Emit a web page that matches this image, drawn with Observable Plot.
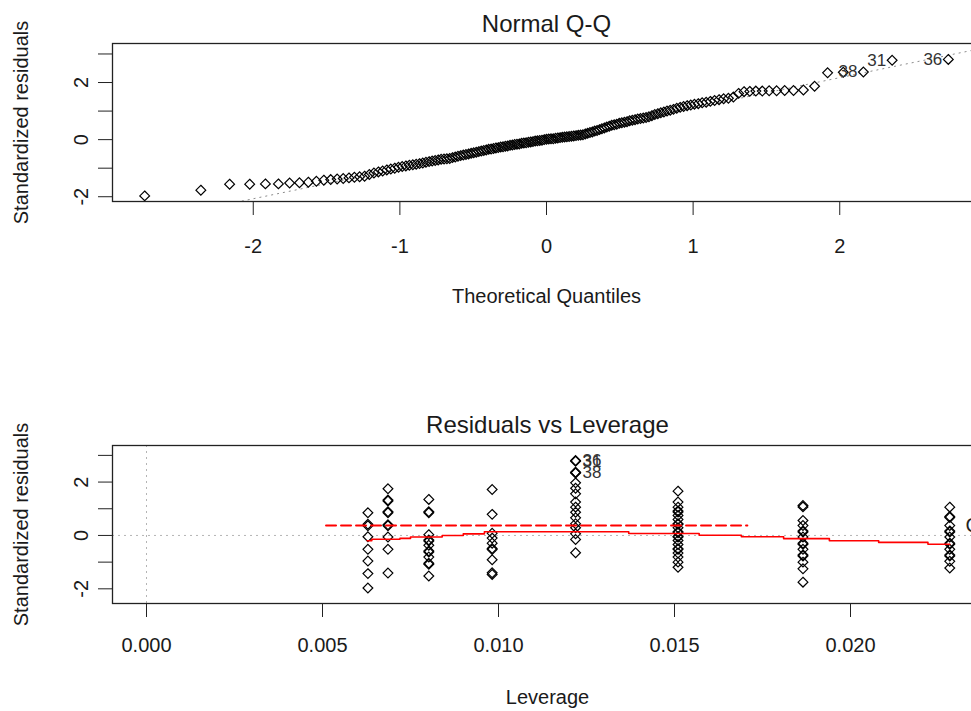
<!DOCTYPE html>
<html><head><meta charset="utf-8">
<script src="https://cdn.jsdelivr.net/npm/d3@7"></script>
<script src="https://cdn.jsdelivr.net/npm/@observablehq/plot@0.6"></script>
<style>
html,body{margin:0;padding:0;background:#fff;overflow:hidden;width:971px;height:711px;}
#c{width:1000px;}
#c svg{display:block;max-width:none !important;}
</style></head><body><div id="c"></div>
<script>
// ---- Data ----
// Sorted standardized residuals (Normal Q-Q panel), n = 163
const qqResiduals = [
 -1.97,-1.77,-1.56,-1.56,-1.55,-1.55,-1.52,-1.51,-1.49,-1.46,
 -1.42,-1.40,-1.38,-1.36,-1.34,-1.32,-1.30,-1.28,-1.22,-1.17,
 -1.13,-1.10,-1.06,-1.03,-1.00,-0.97,-0.94,-0.92,-0.90,-0.88,
 -0.86,-0.84,-0.82,-0.79,-0.77,-0.75,-0.73,-0.71,-0.69,-0.68,
 -0.67,-0.66,-0.63,-0.61,-0.58,-0.56,-0.54,-0.52,-0.50,-0.48,
 -0.46,-0.44,-0.42,-0.40,-0.38,-0.36,-0.34,-0.33,-0.31,-0.29,
 -0.28,-0.26,-0.25,-0.23,-0.22,-0.20,-0.19,-0.17,-0.16,-0.15,
 -0.13,-0.12,-0.11,-0.09,-0.08,-0.07,-0.05,-0.04,-0.03,-0.02,
 0.00,0.01,0.02,0.03,0.03,0.05,0.06,0.07,0.08,0.09,
 0.10,0.11,0.12,0.13,0.14,0.15,0.16,0.17,0.20,0.22,
 0.25,0.27,0.30,0.32,0.35,0.38,0.41,0.44,0.47,0.50,
 0.52,0.54,0.57,0.59,0.61,0.63,0.66,0.68,0.70,0.72,
 0.74,0.755,0.775,0.80,0.84,0.88,0.91,0.94,0.97,1.00,
 1.03,1.06,1.10,1.13,1.16,1.19,1.21,1.24,1.26,1.29,
 1.31,1.34,1.37,1.40,1.43,1.45,1.49,1.62,1.68,1.69,
 1.70,1.70,1.71,1.71,1.72,1.72,1.74,1.87,2.34,2.36,
 2.37,2.78,2.81
];

// Residuals vs Leverage panel: leverage levels and residuals at each level
const leverageLevels = [0.00629, 0.00686, 0.00802, 0.00982, 0.01219, 0.01510, 0.01865, 0.02282];
const residualsByLevel = [
 [0.85, 0.42, 0.36, -0.05, -0.52, -0.96, -1.43, -1.97],
 [1.75, 1.33, 1.29, 0.89, 0.85, 0.40, 0.36, -0.06, -0.52, -1.41],
 [1.35, 0.89, 0.85, 0.03, -0.17, -0.21, -0.37, -0.58, -0.62, -0.81, -1.04, -1.08, -1.52],
 [1.72, 0.79, 0.08, -0.10, -0.29, -0.49, -0.53, -0.91, -1.40, -1.46],
 [2.81, 2.78, 2.37, 2.36, 2.34, 1.97, 1.77, 1.56, 1.25, 1.06, 0.87, 0.66, 0.44, 0.29, 0.06, -0.15, -0.65],
 [1.66, 1.25, 1.06, 0.92, 0.88, 0.75, 0.60, 0.44, 0.42, 0.29, 0.14, 0.10, -0.04, -0.06, -0.19, -0.34, -0.50, -0.52, -0.66, -0.81, -1.00, -1.19],
 [1.12, 1.07, 0.56, 0.37, 0.17, 0.13, -0.06, -0.29, -0.33, -0.52, -0.73, -0.77, -1.00, -1.25, -1.75],
 [1.06, 0.71, 0.67, 0.37, 0.17, 0.13, -0.06, -0.29, -0.33, -0.52, -0.73, -0.77, -0.97, -1.22]
];

// Red smoother (step line)
const smoothX = [0.00627, 0.0064, 0.0072, 0.0075, 0.0084, 0.0090, 0.0096, 0.0137, 0.0157, 0.0169, 0.0181, 0.0194, 0.0208, 0.0222, 0.02282];
const smoothY = [-0.20, -0.14, -0.11, -0.06, 0.00, 0.06, 0.14, 0.07, 0.01, -0.05, -0.12, -0.20, -0.26, -0.33, -0.33];

// Cook's distance legend (dashed red sample + text)
const cookLegendX = [0.0051, 0.01707];
const cookLegendY = 0.37;
const cookLegendText = "Cook's distance";
const cookLegendTextX = 0.02327;

// Labelled observations
const labelIds = ["36", "31", "38"];
const labelResiduals = [2.81, 2.78, 2.37];
const labelLeverage = [0.01219, 0.01219, 0.01219];

// Axis ticks and labels
const qqXTicks = [-2, -1, 0, 1, 2];
const qqXTickLabels = ["-2", "-1", "0", "1", "2"];
const yTicks = [-2, -1, 0, 1, 2, 3];
const yTickLabelVals = [-2, 0, 2];
const yTickLabels = ["-2", "0", "2"];
const levXTicks = [0, 0.005, 0.010, 0.015, 0.020];
const levXTickLabels = ["0.000", "0.005", "0.010", "0.015", "0.020"];

// ---- helpers ----
function qnorm(p){
  const a=[-3.969683028665376e+01,2.209460984245205e+02,-2.759285104469687e+02,1.383577518672690e+02,-3.066479806614716e+01,2.506628277459239e+00];
  const b=[-5.447609879822406e+01,1.615858368580409e+02,-1.556989798598866e+02,6.680131188771972e+01,-1.328068155288572e+01];
  const c=[-7.784894002430293e-03,-3.223964580411365e-01,-2.400758277161838e+00,-2.549732539343734e+00,4.374664141464968e+00,2.938163982698783e+00];
  const d=[7.784695709041462e-03,3.224671290700398e-01,2.445134137142996e+00,3.754408661907416e+00];
  const pl=0.02425;
  if(p<pl){const q=Math.sqrt(-2*Math.log(p));return (((((c[0]*q+c[1])*q+c[2])*q+c[3])*q+c[4])*q+c[5])/((((d[0]*q+d[1])*q+d[2])*q+d[3])*q+1);}
  if(p>1-pl){const q=Math.sqrt(-2*Math.log(1-p));return -(((((c[0]*q+c[1])*q+c[2])*q+c[3])*q+c[4])*q+c[5])/((((d[0]*q+d[1])*q+d[2])*q+d[3])*q+1);}
  const q=p-0.5,r=q*q;return (((((a[0]*r+a[1])*r+a[2])*r+a[3])*r+a[4])*r+a[5])*q/(((((b[0]*r+b[1])*r+b[2])*r+b[3])*r+b[4])*r+1);
}

const nObs = qqResiduals.length;
const sortedRes = qqResiduals.slice().sort((a,b)=>a-b);
const qqData = sortedRes.map((r,i)=>({q: qnorm((i+1-0.5)/nObs), r}));
// qqline through the quartiles
const yq1 = d3.quantile(sortedRes, 0.25), yq3 = d3.quantile(sortedRes, 0.75);
const xq1 = qnorm(0.25), xq3 = qnorm(0.75);
const qqSlope = (yq3-yq1)/(xq3-xq1), qqIntercept = yq1 - qqSlope*xq1;
const qqDomainX = [-2.96, 2.96];
const qqLine = [{x1: qqDomainX[0], y1: qqIntercept+qqSlope*qqDomainX[0], x2: qqDomainX[1], y2: qqIntercept+qqSlope*qqDomainX[1]}];

// labels on Q-Q: position by rank
const qqLabels = labelIds.map((id,k)=>{
  const idx = sortedRes.lastIndexOf(labelResiduals[k]);
  return {id, q: qqData[idx].q, r: labelResiduals[k]};
});

const levData = leverageLevels.flatMap((h,i)=>residualsByLevel[i].map(r=>({h, r})));
const levLabels = labelIds.map((id,k)=>({id, h: labelLeverage[k], r: labelResiduals[k]}));
const smoothData = smoothX.map((x,i)=>({x, y: smoothY[i]}));
const legendData = cookLegendX.map(x=>({x, y: cookLegendY}));

const FONT = "'Liberation Sans', Arial, Helvetica, sans-serif";
const W = 1000;
const ink = "#1a1a1a";
const baseStyle = {fontFamily: FONT, fontSize: "20px", color: ink, background: "white", overflow: "hidden", maxWidth: "none"};
const dotStyle = {symbol: "diamond2", r: 4.4, stroke: "#000", fill: "none", strokeWidth: 1.2};

const topPlot = Plot.plot({
  width: W, height: 355,
  marginLeft: 112, marginRight: 20, marginTop: 43, marginBottom: 154,
  x: {domain: qqDomainX},
  y: {domain: [-2.167, 3.367]},
  style: baseStyle,
  marks: [
    Plot.link(qqLine, {x1:"x1", y1:"y1", x2:"x2", y2:"y2", stroke: "#8c8c8c", strokeWidth: 1, strokeDasharray: "2,4", clip: true}),
    Plot.dot(qqData, {x: "q", y: "r", ...dotStyle}),
    Plot.text(qqLabels, {x: "q", y: "r", text: "id", textAnchor: "end", dx: -6, fontSize: 17, fill: "#333"}),
    Plot.frame({stroke: "#222", strokeWidth: 1.3}),
    Plot.axisX({ticks: qqXTicks, tickSize: 14, tickFormat: () => "", label: null, stroke: "#222"}),
    Plot.axisY({ticks: yTicks, tickSize: 14, tickFormat: () => "", label: null, stroke: "#222"}),
    Plot.text(qqXTicks, {x: d=>d, text: (d,i)=>qqXTickLabels[i], frameAnchor: "bottom", lineAnchor: "middle", dy: 45, fontSize: 20}),
    Plot.text(yTickLabelVals, {y: d=>d, text: (d,i)=>yTickLabels[i], frameAnchor: "left", lineAnchor: "middle", textAnchor: "middle", dx: -31, rotate: -90, fontSize: 20}),
    Plot.text(["Normal Q-Q"], {frameAnchor: "top", lineAnchor: "middle", dy: -19, fontSize: 24}),
    Plot.text(["Theoretical Quantiles"], {frameAnchor: "bottom", lineAnchor: "middle", dy: 95, fontSize: 20}),
    Plot.text(["Standardized residuals"], {frameAnchor: "left", lineAnchor: "middle", textAnchor: "middle", rotate: -90, dx: -91, fontSize: 20})
  ]
});

const bottomPlot = Plot.plot({
  width: W, height: 356,
  marginLeft: 112, marginRight: 18, marginTop: 90, marginBottom: 108,
  x: {domain: [-0.000966, 0.02375]},
  y: {domain: [-2.55, 3.37]},
  style: baseStyle,
  marks: [
    Plot.ruleY([0], {stroke: "#b4b4b4", strokeWidth: 1, strokeDasharray: "2,4"}),
    Plot.ruleX([0], {stroke: "#b4b4b4", strokeWidth: 1, strokeDasharray: "2,4"}),
    Plot.dot(levData, {x: "h", y: "r", ...dotStyle}),
    Plot.line(smoothData, {x: "x", y: "y", curve: "step-after", stroke: "#ff0000", strokeWidth: 1.6}),
    Plot.line(legendData, {x: "x", y: "y", stroke: "#ff0000", strokeWidth: 2, strokeDasharray: "10,5"}),
    Plot.text([cookLegendText], {x: cookLegendTextX, y: cookLegendY, textAnchor: "start", fontSize: 20, fill: "#222"}),
    Plot.text(levLabels, {x: "h", y: "r", text: "id", textAnchor: "start", dx: 7, fontSize: 17, fill: "#333"}),
    Plot.frame({stroke: "#222", strokeWidth: 1.3}),
    Plot.axisX({ticks: levXTicks, tickSize: 14, tickFormat: () => "", label: null, stroke: "#222"}),
    Plot.axisY({ticks: yTicks, tickSize: 14, tickFormat: () => "", label: null, stroke: "#222"}),
    Plot.text(levXTicks, {x: d=>d, text: (d,i)=>levXTickLabels[i], frameAnchor: "bottom", lineAnchor: "middle", dy: 42, fontSize: 20}),
    Plot.text(yTickLabelVals, {y: d=>d, text: (d,i)=>yTickLabels[i], frameAnchor: "left", lineAnchor: "middle", textAnchor: "middle", dx: -31, rotate: -90, fontSize: 20}),
    Plot.text(["Residuals vs Leverage"], {frameAnchor: "top", lineAnchor: "middle", dy: -20, fontSize: 24}),
    Plot.text(["Leverage"], {frameAnchor: "bottom", lineAnchor: "middle", dy: 94, fontSize: 20}),
    Plot.text(["Standardized residuals"], {frameAnchor: "left", lineAnchor: "middle", textAnchor: "middle", rotate: -90, dx: -91, fontSize: 20})
  ]
});

const container = document.getElementById("c");
container.appendChild(topPlot);
container.appendChild(bottomPlot);
</script>
</body></html>
